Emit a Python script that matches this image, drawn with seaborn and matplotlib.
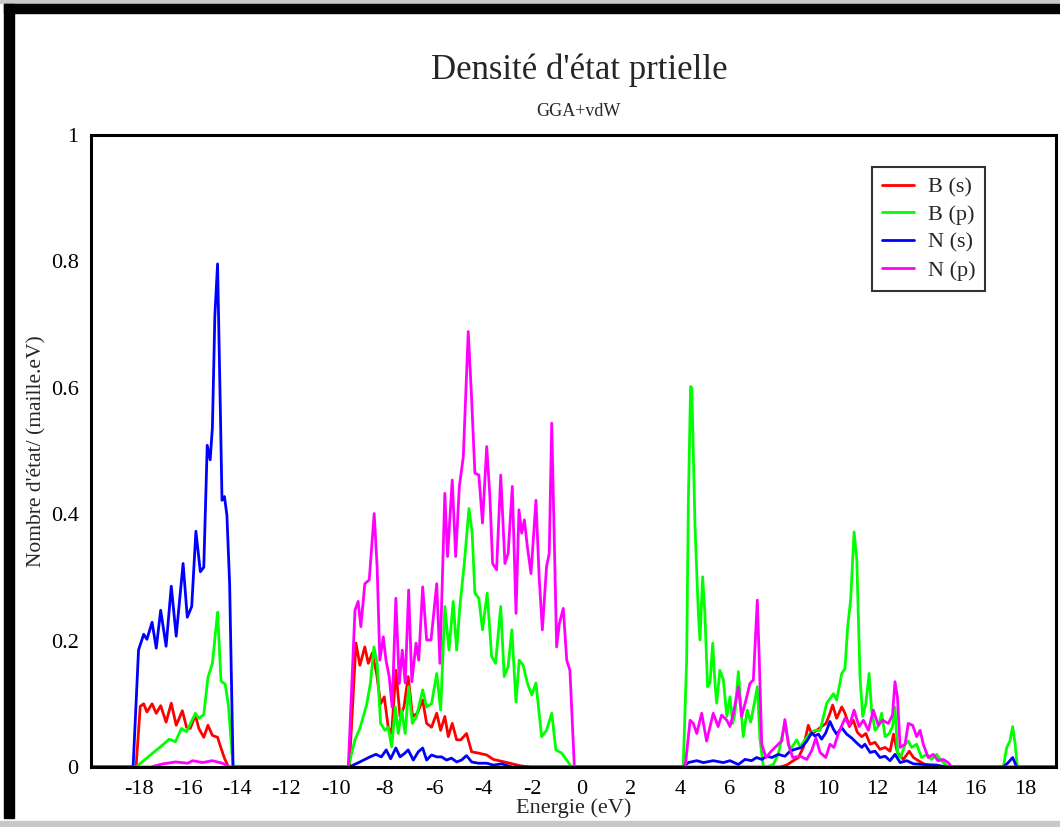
import matplotlib
matplotlib.use("Agg")
import matplotlib.pyplot as plt
from matplotlib.patches import Rectangle
from matplotlib.ticker import FixedLocator, MultipleLocator, FuncFormatter
import pandas as pd
import seaborn as sns

# Partial density of states of h-BN (GGA+vdW), energies in eV
series_names = ["B (s)", "B (p)", "N (s)", "N (p)"]
series_colors = ["#ff0000", "#00ff00", "#0000ff", "#ff00ff"]

b_s_energy = [-20.0, -18.1, -17.93, -17.79, -17.66, -17.45, -17.28, -17.10, -16.88, -16.67, -16.47,
              -16.22, -16.05, -15.90, -15.69, -15.55, -15.35, -15.18, -15.00, -14.79, -14.65, -14.51,
              -14.35, -9.44, -9.17, -9.01, -8.81, -8.67, -8.51, -8.33, -8.17, -8.02, -7.86, -7.72,
              -7.55, -7.38, -7.22, -7.05, -6.87, -6.68, -6.46, -6.30, -6.10, -5.89, -5.73, -5.56,
              -5.42, -5.26, -5.08, -4.91, -4.68, -4.47, -4.20, -3.86, -3.59, -3.25, -2.92, -2.51,
              -2.10, 8.05, 8.32, 8.59, 8.80, 9.00, 9.20, 9.34, 9.54, 9.74, 9.92, 10.08, 10.19,
              10.35, 10.56, 10.69, 10.87, 11.03, 11.19, 11.37, 11.54, 11.71, 11.91, 12.11, 12.32,
              12.52, 12.66, 12.82, 13.06, 13.30, 13.47, 13.67, 13.94, 14.14, 19.5]
b_s_dos = [0.0, 0.0, 0.096, 0.100, 0.087, 0.100, 0.085, 0.097, 0.071, 0.101, 0.066,
           0.089, 0.063, 0.061, 0.082, 0.061, 0.047, 0.066, 0.050, 0.047, 0.030, 0.014,
           0.0, 0.0, 0.196, 0.161, 0.190, 0.164, 0.180, 0.148, 0.100, 0.111, 0.063, 0.053,
           0.153, 0.080, 0.095, 0.143, 0.080, 0.085, 0.106, 0.069, 0.063, 0.085, 0.058, 0.080,
           0.048, 0.069, 0.043, 0.043, 0.053, 0.024, 0.022, 0.019, 0.012, 0.009, 0.006, 0.002,
           0.0, 0.0, 0.003, 0.010, 0.015, 0.031, 0.066, 0.052, 0.058, 0.064, 0.069, 0.085, 0.098,
           0.077, 0.095, 0.085, 0.064, 0.074, 0.055, 0.048, 0.053, 0.036, 0.039, 0.028, 0.031,
           0.025, 0.052, 0.023, 0.012, 0.025, 0.015, 0.010, 0.004, 0.0, 0.0]

b_p_energy = [-20.0, -18.1, -17.58, -17.17, -16.75, -16.50, -16.26, -16.05, -15.69, -15.55, -15.35,
              -15.18, -15.00, -14.79, -14.65, -14.48, -14.35, -14.16, -9.48, -9.21, -9.01, -8.74,
              -8.58, -8.44, -8.31, -8.17, -7.99, -7.86, -7.72, -7.57, -7.45, -7.32, -7.17, -7.03,
              -6.88, -6.71, -6.46, -6.30, -6.10, -5.89, -5.73, -5.56, -5.39, -5.22, -5.08, -4.95,
              -4.77, -4.58, -4.45, -4.34, -4.18, -4.03, -3.84, -3.66, -3.50, -3.29, -3.15, -2.99,
              -2.84, -2.67, -2.54, -2.38, -2.21, -2.03, -1.86, -1.63, -1.43, -1.22, -1.05, -0.82,
              -0.55, -0.43, 4.12, 4.26, 4.33, 4.42, 4.47, 4.60, 4.73, 4.80, 4.91, 5.00, 5.11, 5.21,
              5.32, 5.41, 5.48, 5.61, 5.75, 5.89, 6.02, 6.13, 6.22, 6.36, 6.47, 6.56, 6.72, 6.86,
              7.01, 7.13, 7.24, 7.37, 7.51, 7.78, 7.98, 8.25, 8.46, 8.73, 8.87, 9.07, 9.27, 9.47,
              9.68, 9.95, 10.22, 10.35, 10.56, 10.69, 10.80, 10.92, 11.06, 11.17, 11.30, 11.41,
              11.54, 11.67, 11.77, 11.91, 12.04, 12.18, 12.32, 12.49, 12.62, 12.72, 12.83, 12.95,
              13.13, 13.26, 13.40, 13.60, 13.80, 14.01, 14.20, 14.41, 14.60, 14.82, 14.96, 17.12,
              17.26, 17.39, 17.50, 17.60, 17.69, 19.5]
b_p_dos = [0.0, 0.0, 0.017, 0.030, 0.044, 0.040, 0.061, 0.056, 0.085, 0.077, 0.083,
           0.142, 0.164, 0.245, 0.136, 0.131, 0.098, 0.0, 0.0, 0.043, 0.061, 0.098,
           0.133, 0.190, 0.164, 0.069, 0.058, 0.063, 0.032, 0.095, 0.053, 0.090, 0.053, 0.127,
           0.069, 0.080, 0.122, 0.095, 0.100, 0.148, 0.090, 0.254, 0.185, 0.262, 0.185, 0.254,
           0.322, 0.409, 0.370, 0.275, 0.267, 0.217, 0.275, 0.175, 0.164, 0.254, 0.143, 0.159,
           0.217, 0.103, 0.169, 0.161, 0.133, 0.114, 0.133, 0.048, 0.058, 0.085, 0.027, 0.022,
           0.008, 0.0, 0.0, 0.169, 0.422, 0.602, 0.600, 0.380, 0.248, 0.201, 0.301, 0.243, 0.127, 0.133,
           0.196, 0.133, 0.101, 0.153, 0.138, 0.080, 0.111, 0.069, 0.085, 0.151, 0.090, 0.048, 0.090, 0.071,
           0.101, 0.127, 0.043, 0.002, 0.0, 0.004, 0.020, 0.069, 0.027, 0.043, 0.032, 0.043, 0.053, 0.058,
           0.058, 0.101, 0.116, 0.106, 0.148, 0.156, 0.222, 0.264, 0.372, 0.328, 0.143, 0.080,
           0.101, 0.148, 0.090, 0.058, 0.064, 0.085, 0.048, 0.053, 0.064, 0.095, 0.020, 0.015,
           0.036, 0.041, 0.031, 0.036, 0.015, 0.020, 0.012, 0.020, 0.010, 0.002, 0.0, 0.0,
           0.031, 0.041, 0.064, 0.036, 0.0, 0.0]

n_s_energy = [-20.0, -18.22, -18.00, -17.79, -17.66, -17.45, -17.28, -17.10, -16.88, -16.67, -16.47,
              -16.19, -16.02, -15.84, -15.67, -15.49, -15.35, -15.21, -15.09, -15.00, -14.90, -14.79,
              -14.67, -14.61, -14.51, -14.41, -14.30, -14.16, -9.44, -9.01, -8.60, -8.36, -8.14,
              -7.94, -7.76, -7.55, -7.38, -7.18, -7.05, -6.84, -6.64, -6.46, -6.30, -6.10, -5.89,
              -5.69, -5.49, -5.29, -5.08, -4.88, -4.68, -4.47, -4.20, -3.86, -3.59, -3.25, -2.84,
              4.12, 4.33, 4.67, 4.94, 5.34, 5.75, 6.02, 6.36, 6.63, 6.90, 7.10, 7.31, 7.51, 7.72,
              7.98, 8.25, 8.46, 8.66, 8.93, 9.14, 9.34, 9.47, 9.61, 9.74, 9.91, 10.08, 10.22, 10.35,
              10.56, 10.76, 10.96, 11.17, 11.37, 11.50, 11.71, 11.91, 12.11, 12.32, 12.52, 12.72,
              12.93, 13.20, 13.47, 13.87, 14.41, 14.82, 17.12, 17.32, 17.50, 17.64, 17.70, 19.5]
n_s_dos = [0.0, 0.0, 0.185, 0.210, 0.202, 0.229, 0.188, 0.248, 0.191, 0.286, 0.207,
           0.322, 0.237, 0.254, 0.373, 0.309, 0.316, 0.509, 0.486, 0.537, 0.714, 0.796,
           0.551, 0.422, 0.428, 0.398, 0.290, 0.0, 0.0, 0.008, 0.016, 0.020, 0.016,
           0.027, 0.013, 0.030, 0.016, 0.022, 0.027, 0.011, 0.024, 0.030, 0.011, 0.019, 0.016,
           0.016, 0.011, 0.014, 0.008, 0.011, 0.018, 0.008, 0.006, 0.006, 0.003, 0.005, 0.0,
           0.0, 0.007, 0.010, 0.007, 0.010, 0.007, 0.010, 0.004, 0.012, 0.010, 0.015, 0.012, 0.017, 0.015,
           0.020, 0.017, 0.025, 0.028, 0.031, 0.041, 0.054, 0.049, 0.052, 0.044, 0.054, 0.072, 0.060, 0.052,
           0.062, 0.052, 0.046, 0.038, 0.031, 0.036, 0.023, 0.025, 0.015, 0.017, 0.010, 0.020,
           0.007, 0.010, 0.005, 0.004, 0.003, 0.0, 0.0, 0.007, 0.015, 0.002, 0.0, 0.0]

n_p_energy = [-20.0, -17.5, -17.0, -16.5, -16.0, -15.8, -15.4, -15.0, -14.6, -14.3, -9.48, -9.21,
              -9.08, -8.97, -8.81, -8.63, -8.43, -8.31, -8.20, -8.06, -7.95, -7.82, -7.70, -7.55,
              -7.41, -7.29, -7.17, -7.03, -6.90, -6.73, -6.62, -6.46, -6.30, -6.12, -5.89, -5.76,
              -5.56, -5.45, -5.26, -5.12, -4.97, -4.81, -4.61, -4.47, -4.34, -4.18, -4.03, -3.86,
              -3.73, -3.62, -3.46, -3.29, -3.12, -2.99, -2.82, -2.67, -2.55, -2.44, -2.33, -2.21,
              -2.06, -1.86, -1.73, -1.60, -1.43, -1.32, -1.22, -1.12, -1.02, -0.91, -0.75, -0.61,
              -0.48, -0.30, 4.20, 4.40, 4.53, 4.67, 4.87, 5.07, 5.34, 5.54, 5.68, 5.89, 6.02, 6.16,
              6.36, 6.49, 6.67, 6.83, 6.97, 7.13, 7.21, 7.31, 7.48, 7.72, 7.98, 8.12, 8.25, 8.39,
              8.57, 8.87, 9.14, 9.34, 9.51, 9.68, 9.91, 10.08, 10.24, 10.42, 10.69, 10.87, 11.06,
              11.26, 11.44, 11.64, 11.84, 12.04, 12.22, 12.45, 12.62, 12.72, 12.82, 12.93, 13.13,
              13.26, 13.44, 13.60, 13.74, 13.87, 14.07, 14.27, 14.47, 14.68, 14.88, 15.02, 19.5]
n_p_dos = [0.0, 0.0, 0.005, 0.008, 0.006, 0.010, 0.007, 0.010, 0.006, 0.0, 0.0, 0.248,
           0.262, 0.222, 0.290, 0.296, 0.401, 0.317, 0.169, 0.206, 0.169, 0.143, 0.095, 0.267,
           0.132, 0.185, 0.133, 0.280, 0.135, 0.196, 0.169, 0.285, 0.201, 0.201, 0.290, 0.164,
           0.433, 0.333, 0.454, 0.333, 0.444, 0.491, 0.689, 0.581, 0.465, 0.462, 0.386, 0.507,
           0.428, 0.322, 0.312, 0.462, 0.322, 0.338, 0.444, 0.243, 0.407, 0.370, 0.391, 0.349,
           0.306, 0.422, 0.301, 0.217, 0.317, 0.338, 0.544, 0.370, 0.190, 0.227, 0.251, 0.169,
           0.153, 0.0, 0.0, 0.074, 0.069, 0.053, 0.085, 0.041, 0.085, 0.064, 0.082, 0.074, 0.064, 0.085,
           0.127, 0.080, 0.106, 0.132, 0.138, 0.264, 0.169, 0.036, 0.015, 0.026, 0.036, 0.041, 0.075, 0.036,
           0.015, 0.017, 0.012, 0.026, 0.046, 0.023, 0.015, 0.036, 0.031, 0.053, 0.077, 0.066, 0.090,
           0.064, 0.074, 0.058, 0.090, 0.066, 0.074, 0.069, 0.082, 0.135, 0.111, 0.031, 0.036,
           0.069, 0.066, 0.048, 0.058, 0.036, 0.015, 0.020, 0.010, 0.012, 0.007, 0.0, 0.0]

x_major_ticks = [-18, -16, -14, -12, -10, -8, -6, -4, -2, 0, 2, 4, 6, 8, 10, 12, 14, 16, 18]
y_major_ticks = [0, 0.2, 0.4, 0.6, 0.8, 1.0]

frames = []
for name, e, d in zip(series_names,
                      [b_s_energy, b_p_energy, n_s_energy, n_p_energy],
                      [b_s_dos, b_p_dos, n_s_dos, n_p_dos]):
    frames.append(pd.DataFrame({"Energie": e, "DOS": d, "orbital": name}))
df = pd.concat(frames, ignore_index=True)

sns.set_style("white")
plt.rcParams["font.family"] = ["Liberation Serif", "DejaVu Serif"]

W, H = 1060, 827
fig = plt.figure(figsize=(W / 100, H / 100), dpi=100)
ax = fig.add_axes([91 / W, (H - 767) / H, (1056 - 91) / W, (767 - 135) / H])

sns.lineplot(data=df, x="Energie", y="DOS", hue="orbital", hue_order=series_names,
             palette=series_colors, estimator=None, sort=True, linewidth=2.0,
             ax=ax, legend=False)

ax.set_xlim(-19.93, 19.26)
ax.set_ylim(0, 1)

ax.xaxis.set_major_locator(FixedLocator(x_major_ticks))
ax.xaxis.set_minor_locator(MultipleLocator(1))
ax.yaxis.set_major_locator(FixedLocator(y_major_ticks))
ax.yaxis.set_major_formatter(FuncFormatter(lambda v, p: "%g" % v))
ax.xaxis.set_major_formatter(FuncFormatter(lambda v, p: "%g" % v))
ax.tick_params(axis="both", which="major", direction="in", length=11, width=1.4,
               labelsize=16, color="black", labelcolor="black", pad=9)
ax.tick_params(axis="x", which="minor", direction="in", length=5.5, width=1.4, color="black")
ax.tick_params(top=False, right=False)
for sp in ax.spines.values():
    sp.set_linewidth(2.2)
    sp.set_color("black")
    sp.set_zorder(5)

ax.set_xlabel("Energie (eV)", fontsize=16, labelpad=0)
ax.set_ylabel("Nombre d'état/ (maille.eV)", fontsize=15.5)
ax.yaxis.set_label_coords((46 - 91) / 965, 0.5)

fig.text(579 / W, 1 - 70 / H, "Densité d'état prtielle", fontsize=25, ha="center", va="center")
fig.text(578 / W, 1 - 111 / H, "GGA+vdW", fontsize=13, ha="center", va="center")

handles = [plt.Line2D([], [], color=c, linewidth=2.0) for c in series_colors]
leg = ax.legend(handles, series_names, loc="upper left",
                bbox_to_anchor=((872 - 91) / 965, (767 - 167) / 632),
                fontsize=16, frameon=True, fancybox=False, edgecolor="black",
                handlelength=1.45, handletextpad=0.6, labelspacing=0.32,
                borderpad=0.45, borderaxespad=0)
leg.get_frame().set_linewidth(1.5)

# window frame around the plot
fig.patches.append(Rectangle((0, 1 - 3 / H), 1, 3 / H, transform=fig.transFigure,
                             color="#c8c8c8", zorder=0))
fig.patches.append(Rectangle((4 / W, 1 - 13 / H), 1, 9 / H, transform=fig.transFigure,
                             color="black", zorder=0))
fig.patches.append(Rectangle((4 / W, 1 - 818 / H), 10 / W, 814 / H, transform=fig.transFigure,
                             color="black", zorder=0))
fig.patches.append(Rectangle((0, 0), 1, 6 / H, transform=fig.transFigure,
                             color="#c8c8c8", zorder=0))

fig.savefig("out.png", dpi=100)
